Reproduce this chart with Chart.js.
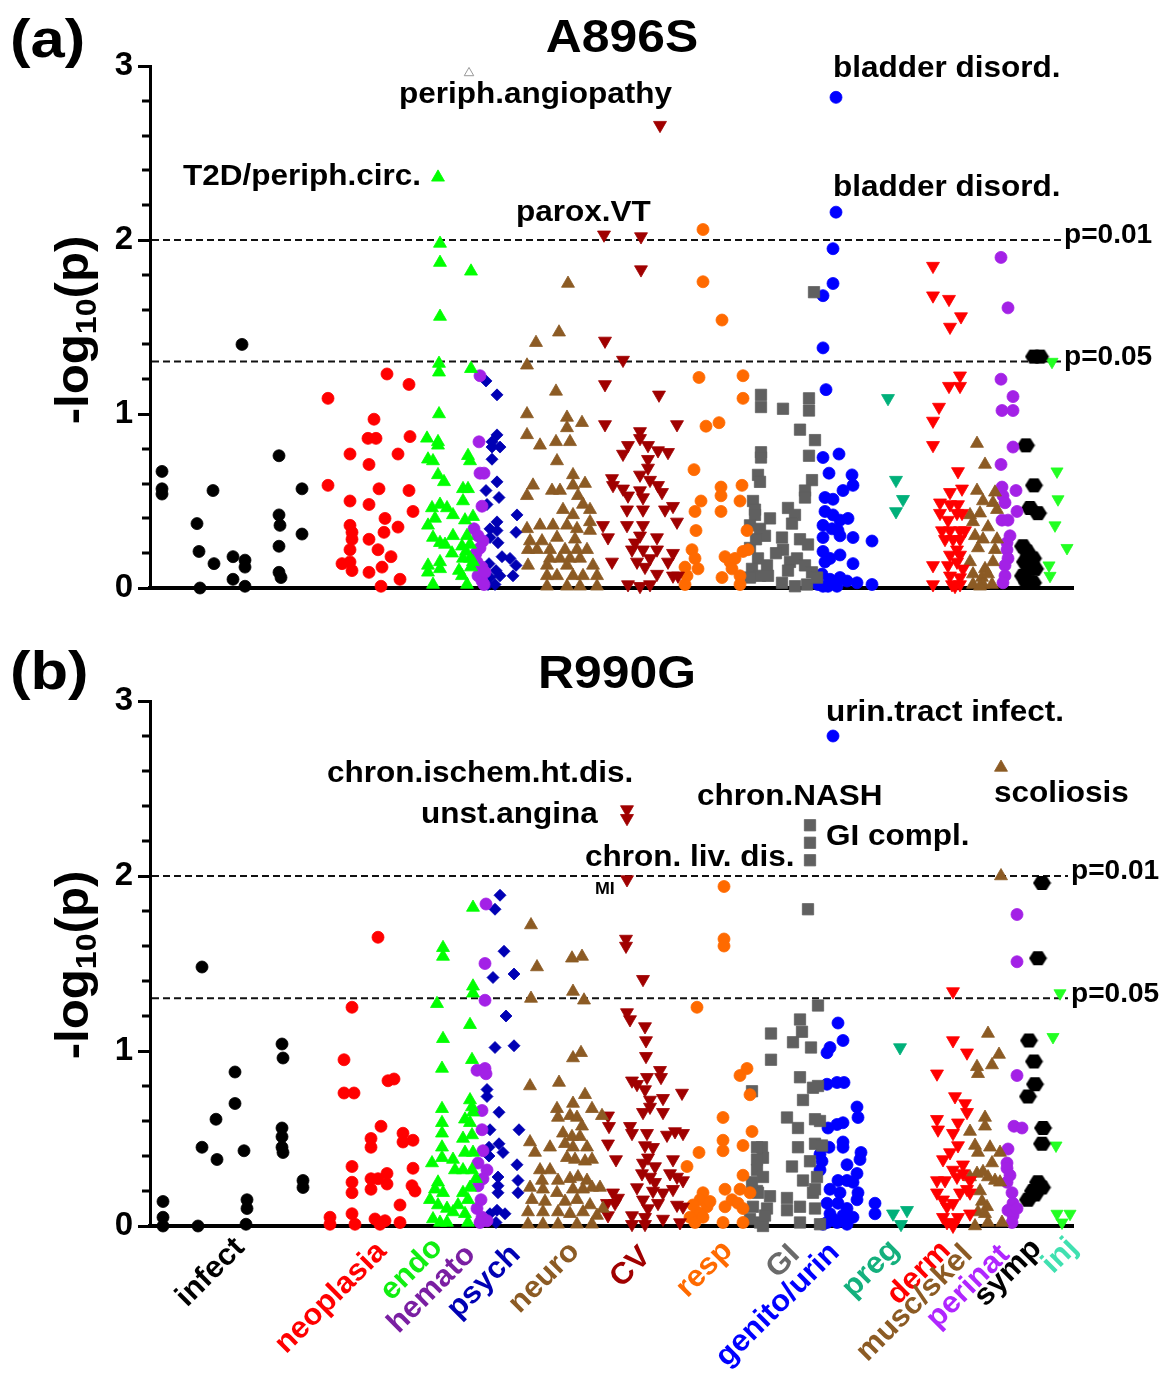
<!DOCTYPE html>
<html><head><meta charset="utf-8">
<script src="https://cdn.jsdelivr.net/npm/chart.js@4.4.0/dist/chart.umd.min.js"></script>
<style>
html,body{margin:0;padding:0;background:#fff;}
#wrap{position:relative;width:1161px;height:1374px;background:#fff;}
#ca{position:absolute;left:0;top:0;}
#cb{position:absolute;left:0;top:620px;}
</style></head><body>
<div id="wrap">
<canvas id="ca" width="1161" height="620"></canvas>
<canvas id="cb" width="1161" height="754"></canvas>
</div>
<script>
// ---------------- DATA ----------------
const categories = ['infect','neoplasia','endo','hemato','psych','neuro','CV','resp','GI','genito/urin','preg','derm','musc/skel','perinat','symp','inj'];
const yTickLabels = [0, 1, 2, 3];
const sigLevels = [2, 1.30103];
const sigLabels = ['p=0.01', 'p=0.05'];
const titleA = 'A896S';
const titleB = 'R990G';

// Panel (a) A896S : [position, -log10(p)]
const infectA = [[162,0.67],[162,0.57],[162,0.54],[197,0.37],[213,0.56],[199,0.21],[200,0.0],[214,0.14],[233,0.18],[233,0.05],[245,0.16],[245,0.12],[245,0.01],[242,1.40],[279,0.76],[279,0.42],[280,0.36],[279,0.24],[279,0.09],[281,0.06],[302,0.57],[302,0.31]];
const neoA = [[328,1.09],[387,1.23],[409,1.17],[374,0.97],[368,0.86],[376,0.86],[410,0.87],[350,0.77],[398,0.77],[369,0.71],[328,0.59],[379,0.57],[409,0.56],[350,0.50],[369,0.48],[413,0.44],[385,0.40],[350,0.36],[398,0.35],[352,0.32],[352,0.28],[369,0.28],[384,0.32],[350,0.22],[378,0.22],[391,0.18],[342,0.14],[350,0.15],[352,0.10],[382,0.12],[369,0.09],[400,0.05],[381,0.01]];
const endoA = [[438,2.36],[440,1.98],[440,1.87],[440,1.56],[471,1.82],[439,1.29],[439,1.24],[471,1.26],[439,1.0],[427,0.86],[438,0.84],[438,0.82],[428,0.74],[433,0.73],[468,0.76],[470,0.73],[438,0.65],[444,0.61],[463,0.57],[468,0.57],[432,0.46],[440,0.48],[447,0.46],[453,0.42],[463,0.50],[435,0.40],[428,0.36],[465,0.39],[473,0.41],[453,0.30],[433,0.29],[440,0.26],[445,0.25],[467,0.30],[470,0.25],[452,0.20],[428,0.13],[440,0.15],[440,0.11],[428,0.09],[433,0.02],[462,0.24],[463,0.17],[470,0.17],[473,0.15],[462,0.07],[467,0.02],[466,0.21],[471,0.12],[459,0.10]];
const hematoA = [[480,1.22],[479,0.84],[480,0.66],[484,0.66],[482,0.47],[474,0.34],[478,0.30],[483,0.27],[480,0.23],[477,0.15],[482,0.12],[478,0.07],[482,0.04],[484,0.02],[476,0.20],[485,0.09]];
const psychA = [[486,1.19],[497,1.11],[497,0.88],[492,0.84],[500,0.81],[492,0.81],[492,0.74],[497,0.61],[486,0.56],[499,0.52],[487,0.48],[517,0.42],[497,0.38],[490,0.34],[497,0.33],[516,0.32],[490,0.29],[498,0.26],[502,0.18],[510,0.17],[516,0.13],[489,0.14],[496,0.10],[500,0.07],[490,0.06],[513,0.07],[495,0.02],[488,0.02]];
const neuroA = [[568,1.75],[559,1.47],[536,1.41],[527,1.28],[556,1.13],[527,1.0],[567,0.98],[582,0.95],[567,0.92],[570,0.84],[527,0.88],[556,0.84],[540,0.82],[557,0.73],[573,0.65],[573,0.59],[533,0.59],[527,0.53],[552,0.56],[560,0.56],[578,0.53],[583,0.48],[590,0.45],[573,0.42],[567,0.36],[577,0.34],[590,0.38],[590,0.33],[527,0.34],[540,0.36],[553,0.36],[530,0.27],[542,0.27],[557,0.29],[528,0.22],[537,0.22],[550,0.22],[565,0.22],[577,0.22],[587,0.22],[550,0.17],[560,0.17],[570,0.17],[580,0.17],[528,0.13],[547,0.13],[567,0.13],[593,0.13],[547,0.07],[557,0.07],[573,0.07],[583,0.07],[597,0.07],[547,0.01],[567,0.01],[580,0.01],[597,0.01],[575,0.28],[563,0.45],[585,0.60]];
const cvA = [[660,2.66],[604,2.03],[641,2.02],[641,1.83],[605,1.42],[623,1.31],[605,1.17],[659,1.11],[605,0.94],[677,0.94],[640,0.90],[640,0.86],[628,0.82],[648,0.82],[658,0.79],[668,0.78],[623,0.77],[648,0.74],[648,0.69],[612,0.63],[613,0.59],[623,0.57],[628,0.53],[640,0.65],[650,0.62],[658,0.59],[640,0.56],[643,0.52],[662,0.55],[627,0.45],[643,0.45],[665,0.45],[673,0.47],[603,0.36],[627,0.36],[643,0.36],[677,0.38],[608,0.29],[640,0.30],[657,0.29],[632,0.22],[643,0.22],[657,0.22],[673,0.20],[612,0.15],[637,0.15],[650,0.17],[668,0.15],[657,0.08],[673,0.07],[678,0.07],[628,0.02],[640,0.01],[650,0.02],[645,0.12],[635,0.26]];
const respA = [[703,2.06],[703,1.76],[722,1.54],[699,1.21],[743,1.22],[743,1.09],[706,0.93],[719,0.95],[694,0.68],[721,0.58],[742,0.59],[721,0.53],[701,0.50],[740,0.50],[695,0.44],[721,0.44],[696,0.33],[747,0.33],[692,0.22],[695,0.17],[698,0.11],[685,0.12],[687,0.07],[685,0.02],[725,0.18],[730,0.15],[735,0.17],[743,0.21],[748,0.22],[722,0.06],[732,0.11],[740,0.07],[740,0.02]];
const giA = [[761,1.11],[761,1.04],[783,1.03],[809,1.09],[809,1.02],[814,1.70],[800,0.91],[815,0.85],[761,0.78],[761,0.75],[809,0.76],[758,0.65],[760,0.61],[812,0.62],[805,0.56],[805,0.52],[753,0.50],[755,0.45],[755,0.42],[788,0.46],[795,0.42],[792,0.37],[750,0.36],[760,0.34],[765,0.30],[782,0.29],[800,0.28],[808,0.25],[750,0.23],[758,0.17],[767,0.13],[752,0.11],[783,0.22],[790,0.15],[797,0.17],[805,0.13],[812,0.09],[760,0.07],[768,0.07],[750,0.06],[782,0.03],[795,0.01],[807,0.02],[817,0.06],[770,0.40],[776,0.20],[788,0.10],[756,0.28]];
const genitoA = [[836,2.82],[836,2.16],[833,1.95],[833,1.75],[823,1.68],[823,1.38],[826,1.14],[823,0.75],[839,0.77],[829,0.66],[852,0.65],[853,0.59],[843,0.56],[825,0.52],[833,0.51],[825,0.44],[833,0.42],[840,0.39],[848,0.40],[823,0.36],[832,0.34],[838,0.33],[823,0.29],[840,0.30],[853,0.29],[872,0.27],[823,0.21],[830,0.17],[825,0.15],[840,0.19],[853,0.14],[822,0.08],[830,0.05],[823,0.01],[840,0.06],[847,0.04],[857,0.03],[872,0.02],[837,0.01],[828,0.01],[818,0.02]];
const pregA = [[888,1.09],[896,0.62],[903,0.51],[896,0.44]];
const dermA = [[933,1.85],[933,1.68],[949,1.66],[961,1.56],[950,1.50],[960,1.22],[949,1.16],[960,1.16],[939,1.04],[933,0.96],[933,0.82],[958,0.67],[950,0.55],[962,0.57],[940,0.49],[950,0.48],[958,0.48],[940,0.43],[948,0.39],[957,0.43],[962,0.43],[942,0.33],[950,0.33],[960,0.33],[965,0.33],[945,0.28],[953,0.28],[960,0.28],[957,0.22],[950,0.19],[960,0.19],[933,0.13],[948,0.13],[957,0.15],[963,0.11],[950,0.07],[960,0.06],[933,0.02],[952,0.02],[960,0.02],[955,0.01]];
const muscA = [[977,0.83],[985,0.71],[977,0.56],[983,0.50],[995,0.55],[993,0.49],[997,0.45],[970,0.42],[973,0.38],[980,0.43],[983,0.28],[997,0.28],[978,0.23],[995,0.22],[970,0.15],[985,0.11],[993,0.15],[973,0.08],[982,0.06],[988,0.08],[973,0.02],[983,0.02],[992,0.02],[980,0.01],[988,0.35],[975,0.30]];
const perinatA = [[1001,1.90],[1008,1.61],[1001,1.20],[1013,1.10],[1002,1.02],[1013,1.02],[1013,0.81],[1001,0.71],[1002,0.58],[1016,0.56],[1003,0.53],[1005,0.49],[1017,0.44],[1002,0.39],[1008,0.39],[1007,0.26],[1007,0.22],[1008,0.17],[1005,0.13],[1005,0.07],[1010,0.30],[1003,0.03]];
const sympA = [[1034,1.33],[1040,1.33],[1026,0.82],[1034,0.59],[1030,0.46],[1038,0.43],[1023,0.24],[1027,0.21],[1033,0.17],[1025,0.15],[1030,0.11],[1035,0.11],[1023,0.07],[1027,0.03],[1033,0.03]];
const injA = [[1052,1.30],[1057,0.67],[1058,0.51],[1055,0.36],[1067,0.23],[1049,0.13],[1050,0.07]];
const openA = [[469,2.96]];

// Panel (b) R990G
const infectB = [[163,0.14],[163,0.05],[163,0.0],[202,1.48],[202,0.45],[198,0.0],[216,0.61],[217,0.38],[235,0.88],[235,0.70],[244,0.43],[247,0.15],[247,0.10],[246,0.01],[282,1.04],[283,0.96],[282,0.56],[282,0.51],[282,0.45],[283,0.42],[303,0.26],[303,0.22]];
const neoB = [[378,1.65],[352,1.25],[344,0.95],[344,0.76],[354,0.76],[388,0.83],[394,0.84],[381,0.57],[371,0.50],[371,0.45],[403,0.53],[403,0.48],[413,0.49],[352,0.34],[413,0.33],[387,0.30],[378,0.27],[387,0.24],[371,0.27],[352,0.25],[352,0.19],[371,0.21],[412,0.23],[415,0.20],[400,0.12],[330,0.05],[330,0.01],[352,0.07],[355,0.01],[375,0.04],[385,0.03],[380,0.01],[400,0.02]];
const endoB = [[443,1.59],[443,1.54],[473,1.82],[473,1.37],[473,1.33],[437,1.27],[470,1.15],[443,1.07],[442,0.90],[472,0.95],[442,0.67],[470,0.72],[472,0.68],[442,0.59],[442,0.53],[465,0.61],[470,0.59],[473,0.65],[442,0.45],[442,0.39],[463,0.50],[472,0.52],[432,0.36],[453,0.38],[455,0.32],[465,0.42],[473,0.42],[438,0.25],[435,0.21],[443,0.19],[463,0.32],[472,0.32],[430,0.15],[438,0.12],[447,0.10],[453,0.08],[463,0.19],[470,0.22],[468,0.15],[433,0.04],[440,0.02],[447,0.02],[465,0.07],[468,0.02],[458,0.12],[476,0.27]];
const hematoB = [[486,1.84],[485,1.50],[485,1.29],[477,0.89],[485,0.90],[486,0.87],[482,0.66],[482,0.55],[483,0.43],[478,0.36],[487,0.32],[483,0.27],[478,0.23],[477,0.10],[482,0.05],[487,0.03],[480,0.02],[481,0.15]];
const psychB = [[500,1.89],[495,1.81],[504,1.57],[493,1.42],[514,1.44],[506,1.20],[495,1.02],[514,1.03],[487,0.78],[487,0.74],[499,0.65],[490,0.55],[519,0.55],[499,0.47],[503,0.42],[489,0.45],[489,0.40],[517,0.35],[498,0.28],[498,0.23],[498,0.19],[518,0.26],[518,0.19],[490,0.07],[497,0.09],[505,0.07],[496,0.02]];
const neuroB = [[531,1.72],[572,1.53],[582,1.54],[537,1.48],[573,1.34],[531,1.30],[584,1.29],[573,0.96],[581,0.99],[530,0.80],[559,0.82],[585,0.75],[557,0.67],[573,0.70],[592,0.67],[602,0.63],[570,0.63],[577,0.62],[582,0.57],[558,0.62],[563,0.53],[572,0.51],[580,0.51],[565,0.47],[573,0.45],[587,0.45],[550,0.45],[530,0.48],[535,0.42],[567,0.39],[575,0.38],[585,0.37],[592,0.38],[540,0.32],[550,0.32],[542,0.26],[558,0.26],[570,0.27],[578,0.28],[587,0.26],[600,0.22],[530,0.22],[543,0.21],[557,0.19],[573,0.21],[583,0.21],[592,0.22],[532,0.15],[545,0.14],[565,0.14],[577,0.15],[590,0.12],[603,0.10],[528,0.08],[543,0.08],[558,0.08],[570,0.07],[583,0.08],[597,0.06],[528,0.01],[543,0.01],[558,0.01],[577,0.01],[592,0.01]];
const cvB = [[627,2.38],[627,2.33],[627,1.98],[626,1.64],[626,1.60],[643,1.41],[627,1.22],[630,1.18],[645,1.14],[646,1.06],[646,0.97],[660,0.89],[661,0.85],[647,0.85],[632,0.83],[637,0.81],[645,0.78],[650,0.72],[663,0.73],[682,0.76],[643,0.65],[663,0.65],[650,0.68],[608,0.63],[609,0.57],[608,0.47],[616,0.38],[630,0.57],[632,0.53],[647,0.53],[667,0.52],[675,0.54],[683,0.53],[645,0.46],[653,0.45],[648,0.39],[643,0.36],[655,0.34],[673,0.38],[642,0.30],[650,0.28],[670,0.30],[677,0.28],[683,0.26],[637,0.22],[653,0.20],[663,0.19],[673,0.21],[607,0.13],[615,0.13],[643,0.15],[658,0.13],[677,0.12],[683,0.11],[613,0.19],[618,0.16],[608,0.06],[632,0.06],[645,0.05],[663,0.04],[680,0.02],[645,0.01],[632,0.01],[655,0.25],[648,0.10]];
const respB = [[724,1.94],[724,1.64],[724,1.60],[697,1.25],[740,0.86],[747,0.90],[750,0.75],[723,0.62],[752,0.54],[723,0.49],[723,0.43],[743,0.46],[699,0.42],[687,0.34],[743,0.29],[740,0.21],[703,0.19],[700,0.15],[707,0.11],[697,0.08],[690,0.05],[695,0.02],[703,0.05],[725,0.21],[725,0.11],[732,0.15],[738,0.13],[743,0.10],[743,0.02],[723,0.02],[750,0.19],[710,0.14],[693,0.12]];
const giB = [[810,2.29],[810,2.19],[810,2.09],[808,1.81],[818,1.26],[800,1.18],[802,1.11],[793,1.05],[811,1.02],[771,1.10],[771,0.95],[800,0.85],[813,0.79],[818,0.80],[752,0.77],[803,0.72],[787,0.62],[798,0.56],[815,0.61],[820,0.60],[762,0.45],[763,0.39],[798,0.45],[815,0.47],[822,0.46],[757,0.45],[757,0.38],[757,0.32],[757,0.20],[792,0.34],[803,0.26],[817,0.28],[763,0.28],[758,0.19],[770,0.17],[787,0.16],[813,0.19],[815,0.21],[753,0.11],[767,0.10],[787,0.09],[800,0.11],[815,0.10],[750,0.04],[760,0.02],[763,0.0],[800,0.02],[820,0.01],[752,0.25],[765,0.06],[810,0.37]];
const genitoB = [[833,2.80],[838,1.16],[843,1.06],[830,1.02],[827,0.99],[827,0.81],[837,0.82],[844,0.82],[857,0.68],[858,0.62],[843,0.59],[837,0.58],[828,0.56],[843,0.48],[843,0.45],[829,0.45],[861,0.42],[860,0.38],[820,0.41],[822,0.37],[820,0.32],[847,0.35],[857,0.30],[838,0.26],[847,0.26],[853,0.25],[830,0.21],[840,0.19],[858,0.19],[857,0.15],[827,0.13],[838,0.13],[847,0.10],[830,0.07],[843,0.06],[853,0.05],[875,0.13],[875,0.07],[827,0.02],[837,0.02],[847,0.01],[823,0.01],[833,0.04]];
const pregB = [[900,1.02],[893,0.07],[907,0.09],[901,0.01]];
const dermB = [[953,1.34],[953,1.06],[967,0.99],[937,0.87],[955,0.74],[965,0.70],[967,0.65],[937,0.61],[938,0.55],[953,0.53],[958,0.59],[950,0.42],[958,0.46],[943,0.38],[953,0.32],[963,0.35],[937,0.19],[943,0.15],[953,0.13],[947,0.11],[960,0.19],[970,0.19],[967,0.21],[943,0.05],[953,0.02],[958,0.05],[970,0.07],[953,0.0],[947,0.02],[937,0.26],[945,0.26],[957,0.28],[963,0.30],[970,0.26]];
const muscB = [[1001,2.62],[1001,2.00],[988,1.10],[999,0.98],[992,0.92],[977,0.91],[978,0.87],[985,0.62],[985,0.57],[970,0.54],[975,0.46],[990,0.45],[1000,0.42],[978,0.42],[970,0.28],[977,0.30],[983,0.31],[988,0.28],[995,0.26],[1000,0.25],[982,0.14],[987,0.11],[978,0.08],[985,0.07],[975,0.0],[988,0.02],[1002,0.02],[992,0.36],[980,0.20]];
const perinatB = [[1017,1.78],[1017,1.51],[1017,0.86],[1014,0.57],[1022,0.56],[1008,0.44],[1007,0.36],[1007,0.33],[1007,0.25],[1012,0.19],[1013,0.13],[1008,0.09],[1013,0.06],[1012,0.02],[1017,0.10],[1010,0.29]];
const sympB = [[1042,1.96],[1038,1.53],[1029,1.06],[1034,0.94],[1035,0.81],[1028,0.74],[1043,0.56],[1042,0.47],[1038,0.25],[1042,0.22],[1033,0.20],[1028,0.15],[1035,0.18]];
const injB = [[1060,1.33],[1053,1.08],[1056,0.46],[1057,0.07],[1062,0.02],[1070,0.07]];

const annotTextA = ['periph.angiopathy','T2D/periph.circ.','parox.VT','bladder disord.','bladder disord.'];
const annotTextB = ['urin.tract infect.','chron.ischem.ht.dis.','unst.angina','chron.NASH','GI compl.','chron. liv. dis.','MI','scoliosis'];

const panelA = [infectA, neoA, endoA, hematoA, psychA, neuroA, cvA, respA, giA, genitoA, pregA, dermA, muscA, perinatA, sympA, injA];
const panelB = [infectB, neoB, endoB, hematoB, psychB, neuroB, cvB, respB, giB, genitoB, pregB, dermB, muscB, perinatB, sympB, injB];

// ---------------- STYLE / LAYOUT ----------------
const FONT = '"Liberation Sans", Arial, sans-serif';
Chart.defaults.font.family = FONT;
const catStyle = [
  {color:'#000000', shape:'circle', r:6, label:'#000000'},
  {color:'#ff0000', shape:'circle', r:6, label:'#ff0000'},
  {color:'#00ff00', shape:'triangle', r:7.5, label:'#11ee11'},
  {color:'#a321e6', shape:'circle', r:6, label:'#7a1fa2'},
  {color:'#0000b4', shape:'rectRot', r:6, label:'#0000b4'},
  {color:'#8c5b24', shape:'triangle', r:7.5, label:'#8c5b24'},
  {color:'#a00000', shape:'triangle', rot:180, r:7.5, label:'#a00000'},
  {color:'#ff6a00', shape:'circle', r:6, label:'#ff6a00'},
  {color:'#606060', shape:'rect', r:8, label:'#6a6a6a'},
  {color:'#0000ff', shape:'circle', r:6, label:'#0000ff'},
  {color:'#00b07a', shape:'triangle', rot:180, r:7.5, label:'#14b07d'},
  {color:'#ff0000', shape:'triangle', rot:180, r:7.5, label:'#ff0000'},
  {color:'#8c5b24', shape:'triangle', r:7.5, label:'#8c5b24'},
  {color:'#a321e6', shape:'circle', r:6, label:'#b026ff'},
  {color:'#000000', shape:'hex', r:8, label:'#000000'},
  {color:'#22ff22', shape:'triangle', rot:180, r:7, label:'#40e0b0'}
];
// category label anchors (x along axis, offset px below axis)
const catLabelPos = [[240,17],[382,21],[438,17],[471,24],[516,24],[575,21],[646,26],[728,20],[795,24],[835,22],[895,19],[946,20],[968,24],[1005,24],[1037,18],[1073,17]];
const annotPosA = [[399,2.833],[183,2.362],[516,2.155],[833,2.983],[833,2.299]];
const annotPosB = [[826,2.931],[327,2.583],[421,2.349],[697,2.451],[826,2.223],[585,2.103],[595,1.926],[994,2.469]];

function hexImg(color){
  const c=document.createElement('canvas'); c.width=19; c.height=16;
  const g=c.getContext('2d'); g.fillStyle=color; g.beginPath();
  g.moveTo(0.5,8); g.lineTo(5,1); g.lineTo(14,1); g.lineTo(18.5,8); g.lineTo(14,15); g.lineTo(5,15);
  g.closePath(); g.fill(); return c;
}
function buildDatasets(panel, extra){
  const ds = panel.map((pts,i)=>{
    const st = catStyle[i];
    return {
      label: categories[i],
      data: pts.map(p=>({x:p[0], y:p[1]})),
      pointStyle: st.shape==='hex' ? hexImg(st.color) : st.shape,
      pointRotation: st.rot||0,
      pointRadius: st.r,
      pointBackgroundColor: st.color,
      pointBorderColor: st.color,
      backgroundColor: st.color,
      borderColor: st.color,
      pointBorderWidth: 0.8,
      showLine:false,
      clip:false
    };
  });
  if (extra) ds.push({label:'open', data: extra.map(p=>({x:p[0],y:p[1]})), pointStyle:'triangle', pointRadius:5.5,
     pointBackgroundColor:'#ffffff', pointBorderColor:'#999999', pointBorderWidth:1, showLine:false, clip:false});
  return ds;
}
function txt(ctx, s, x, y, font, color, sx, align, base){
  ctx.save(); ctx.font=font; ctx.fillStyle=color||'#000'; ctx.textAlign=align||'left'; ctx.textBaseline=base||'middle';
  ctx.translate(x,y); ctx.scale(sx||1,1); ctx.fillText(s,0,0); ctx.restore();
}
function drawYTitle(ctx, cx, cy){
  ctx.save(); ctx.translate(cx,cy); ctx.rotate(-Math.PI/2); ctx.scale(1.07,1);
  const big='bold 46px '+FONT, small='bold 30px '+FONT;
  ctx.font=big; const w1=ctx.measureText('-log').width, w3=ctx.measureText('(p)').width;
  ctx.font=small; const w2=ctx.measureText('10').width;
  const x0=-(w1+w2+w3)/2;
  ctx.fillStyle='#000'; ctx.textAlign='left'; ctx.textBaseline='alphabetic';
  ctx.font=big; ctx.fillText('-log',x0,0);
  ctx.font=small; ctx.fillText('10',x0+w1,8);
  ctx.font=big; ctx.fillText('(p)',x0+w1+w2,0);
  ctx.restore();
}
function decor(cfg){
  return {
    id:'decor',
    beforeDatasetsDraw(chart){
      const {ctx, chartArea, scales:{x,y}} = chart;
      ctx.save();
      ctx.strokeStyle='#000'; ctx.lineWidth=3;
      y.ticks.forEach(t=>{
        if (Math.abs(t.value-Math.round(t.value))>1e-6){
          const py=Math.round(y.getPixelForValue(t.value));
          ctx.beginPath(); ctx.moveTo(chartArea.left-8,py); ctx.lineTo(chartArea.left,py); ctx.stroke();
        }
      });
      ctx.setLineDash([7,4]); ctx.lineWidth=2; ctx.strokeStyle='#111';
      sigLevels.forEach(v=>{
        const py=y.getPixelForValue(v);
        ctx.beginPath(); ctx.moveTo(chartArea.left+2,py); ctx.lineTo(x.getPixelForValue(cfg.dashEnd),py); ctx.stroke();
      });
      ctx.restore();
    },
    afterDraw(chart){
      const {ctx, chartArea, scales:{x,y}} = chart;
      const afont='bold 30px '+FONT;
      txt(ctx, cfg.letter, 10, cfg.letterY, 'bold 54px '+FONT, '#000', 1.14, 'left', 'alphabetic');
      txt(ctx, cfg.title, cfg.titleX, cfg.titleY, 'bold 47px '+FONT, '#000', 1.06, 'center', 'alphabetic');
      drawYTitle(ctx, 88, cfg.yTitleY);
      sigLabels.forEach((s,i)=>{
        txt(ctx, s, x.getPixelForValue(cfg.pLabelX), y.getPixelForValue(sigLevels[i])-4, 'bold 27px '+FONT, '#000', 1.04, 'left', 'middle');
      });
      cfg.annotText.forEach((s,i)=>{
        const p=cfg.annotPos[i];
        const f = s==='MI' ? 'bold 17px '+FONT : afont;
        txt(ctx, s, x.getPixelForValue(p[0]), y.getPixelForValue(p[1]), f, '#000', 1.05, 'left', 'middle');
      });
      if (cfg.catLabels){
        categories.forEach((c,i)=>{
          const p=catLabelPos[i];
          ctx.save();
          ctx.translate(x.getPixelForValue(p[0]), chartArea.bottom+p[1]);
          ctx.rotate(-Math.PI/4);
          ctx.scale(1.04,1);
          ctx.font='bold 30px '+FONT; ctx.fillStyle=catStyle[i].label; ctx.textAlign='right'; ctx.textBaseline='middle';
          ctx.fillText(c,0,0);
          ctx.restore();
        });
      }
    }
  };
}
function makeChart(id, panel, extra, pad, cfg){
  return new Chart(document.getElementById(id), {
    type:'scatter',
    data:{datasets: buildDatasets(panel, extra)},
    options:{
      responsive:false, animation:false, devicePixelRatio:1,
      layout:{padding:pad},
      plugins:{legend:{display:false}, tooltip:{enabled:false}, title:{display:false}},
      scales:{
        x:{type:'linear', min:150, max:1073, display:true,
           ticks:{display:false}, grid:{display:false, drawTicks:false},
           border:{display:true, color:'#000', width:4},
           afterFit:(s)=>{s.height=0;}},
        y:{type:'linear', position:'left', min:0, max:3,
           afterFit:(s)=>{s.width=62;},
           ticks:{stepSize:0.2, autoSkip:false, padding:5, color:'#000',
             font:{size:33, weight:'bold', family:FONT},
             callback:(v)=>{ const r=Math.round(v); return (Math.abs(v-r)<1e-6 && yTickLabels.includes(r)) ? String(r) : ''; }},
           grid:{drawOnChartArea:false, drawTicks:true, tickLength:12, lineWidth:3,
             color:(c)=>{ const v=c.tick?c.tick.value:0; return Math.abs(v-Math.round(v))<1e-6 ? '#000' : 'rgba(0,0,0,0)'; }},
           border:{display:true, color:'#000', width:3}}
      }
    },
    plugins:[decor(cfg)]
  });
}
makeChart('ca', panelA, openA, {left:88, right:88, top:66, bottom:32},
  {letter:'(a)', letterY:57, title:titleA, titleX:622, titleY:52, yTitleY:330, dashEnd:1062, pLabelX:1064,
   annotText:annotTextA, annotPos:annotPosA, catLabels:false});
makeChart('cb', panelB, null, {left:88, right:88, top:81, bottom:148},
  {letter:'(b)', letterY:69, title:titleB, titleX:617, titleY:68, yTitleY:345, dashEnd:1068, pLabelX:1071,
   annotText:annotTextB, annotPos:annotPosB, catLabels:true});
</script>
</body></html>
